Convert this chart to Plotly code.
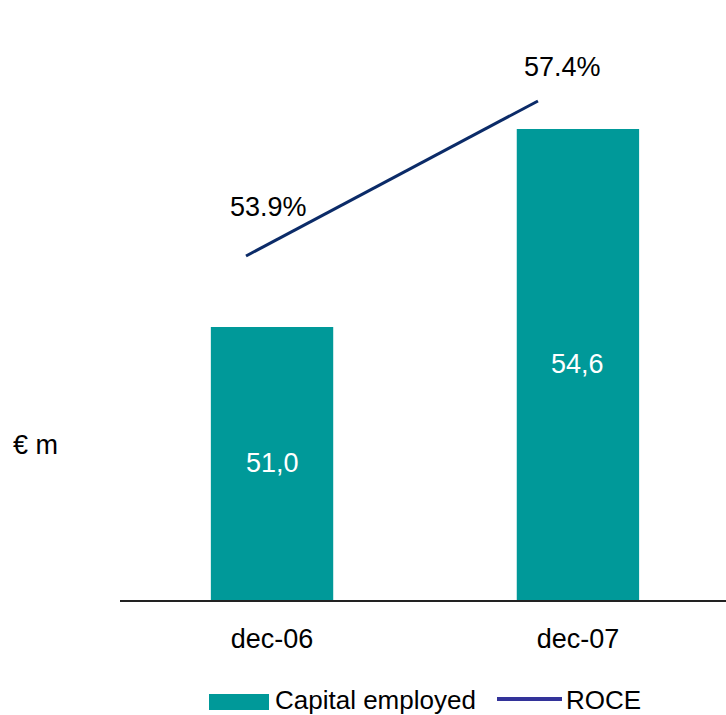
import plotly.graph_objects as go

# Data
periods = ["dec-06", "dec-07"]
capital_employed = [51.0, 54.6]   # € m
roce = [53.9, 57.4]               # %

TEAL = "#009999"
NAVY = "#0b2b68"
LEGEND_LINE = "#333399"
FONT = "Liberation Sans, Arial, sans-serif"
FS = 27
FS_LEGEND = 26

W, H = 726, 715
ML, MR, MT, MB = 120, 0, 0, 115
plot_w = W - ML - MR
plot_h = H - MT - MB

# Value axes (bars start above zero, so the lower bound is the visible base)
y_min, y_max = 46.036, 56.945
y2_min, y2_max = 46.132, 59.68


def px_x(p):
    return (p - ML) / plot_w


def px_y(p):
    return (MT + plot_h - p) / plot_h


fig = go.Figure()

fig.add_trace(go.Bar(
    x=periods, y=capital_employed, name="Capital employed",
    marker=dict(color=TEAL, line=dict(width=0)),
    width=0.4, showlegend=False, hoverinfo="x+y",
))

fig.add_trace(go.Scatter(
    x=periods, y=roce, name="ROCE", mode="lines",
    line=dict(color=NAVY, width=3),
    xaxis="x2", yaxis="y2", showlegend=False,
))

annotations = []

# Bar value labels, centred on the visible part of each bar
for p, v in zip(periods, capital_employed):
    annotations.append(dict(
        x=p, y=(y_min + v) / 2, xref="x", yref="y",
        text=f"{v:.1f}".replace(".", ","), showarrow=False,
        font=dict(family=FONT, size=FS, color="white"),
    ))

# ROCE labels above the line ends
for p, v, dx, dy in zip(periods, roce, [23, 25], [49, 34]):
    annotations.append(dict(
        x=p, y=v, xref="x2", yref="y2",
        text=f"{v:.1f}%", showarrow=False, xshift=dx, yshift=dy,
        font=dict(family=FONT, size=FS, color="black"),
    ))

# Unit label
annotations.append(dict(
    x=px_x(11), y=px_y(445), xref="paper", yref="paper",
    xanchor="left", yanchor="middle", text="€ m", showarrow=False,
    font=dict(family=FONT, size=FS, color="black"),
))

# Legend texts
annotations.append(dict(
    x=px_x(274), y=px_y(700), xref="paper", yref="paper",
    xanchor="left", yanchor="middle", text="Capital employed", showarrow=False,
    borderpad=0, font=dict(family=FONT, size=FS_LEGEND, color="black"),
))
annotations.append(dict(
    x=px_x(565), y=px_y(700), xref="paper", yref="paper",
    xanchor="left", yanchor="middle", text="ROCE", showarrow=False,
    borderpad=0, font=dict(family=FONT, size=FS_LEGEND, color="black"),
))

shapes = [
    dict(type="rect", xref="paper", yref="paper",
         x0=px_x(209), x1=px_x(269), y0=px_y(694), y1=px_y(710),
         fillcolor=TEAL, line=dict(width=0)),
    dict(type="line", xref="paper", yref="paper",
         x0=px_x(497), x1=px_x(562), y0=px_y(699), y1=px_y(699),
         line=dict(color=LEGEND_LINE, width=4)),
]

fig.update_layout(
    width=W, height=H,
    margin=dict(l=ML, r=MR, t=MT, b=MB, pad=0),
    paper_bgcolor="white", plot_bgcolor="white",
    font=dict(family=FONT, size=FS, color="black"),
    xaxis=dict(
        type="category", range=[-0.497, 1.484],
        showline=True, linecolor="#222222", linewidth=2,
        showgrid=False, zeroline=False,
        ticks="outside", ticklen=14, tickcolor="rgba(0,0,0,0)",
        tickfont=dict(family=FONT, size=FS, color="black"),
    ),
    xaxis2=dict(
        type="category", overlaying="x", range=[-0.4315, 1.644],
        visible=False,
    ),
    yaxis=dict(range=[y_min, y_max], visible=False, showgrid=False,
               zeroline=False),
    yaxis2=dict(range=[y2_min, y2_max], overlaying="y", visible=False,
                showgrid=False, zeroline=False),
    bargap=0.6,
    annotations=annotations,
    shapes=shapes,
    showlegend=False,
)

fig.write_html("out.html")
